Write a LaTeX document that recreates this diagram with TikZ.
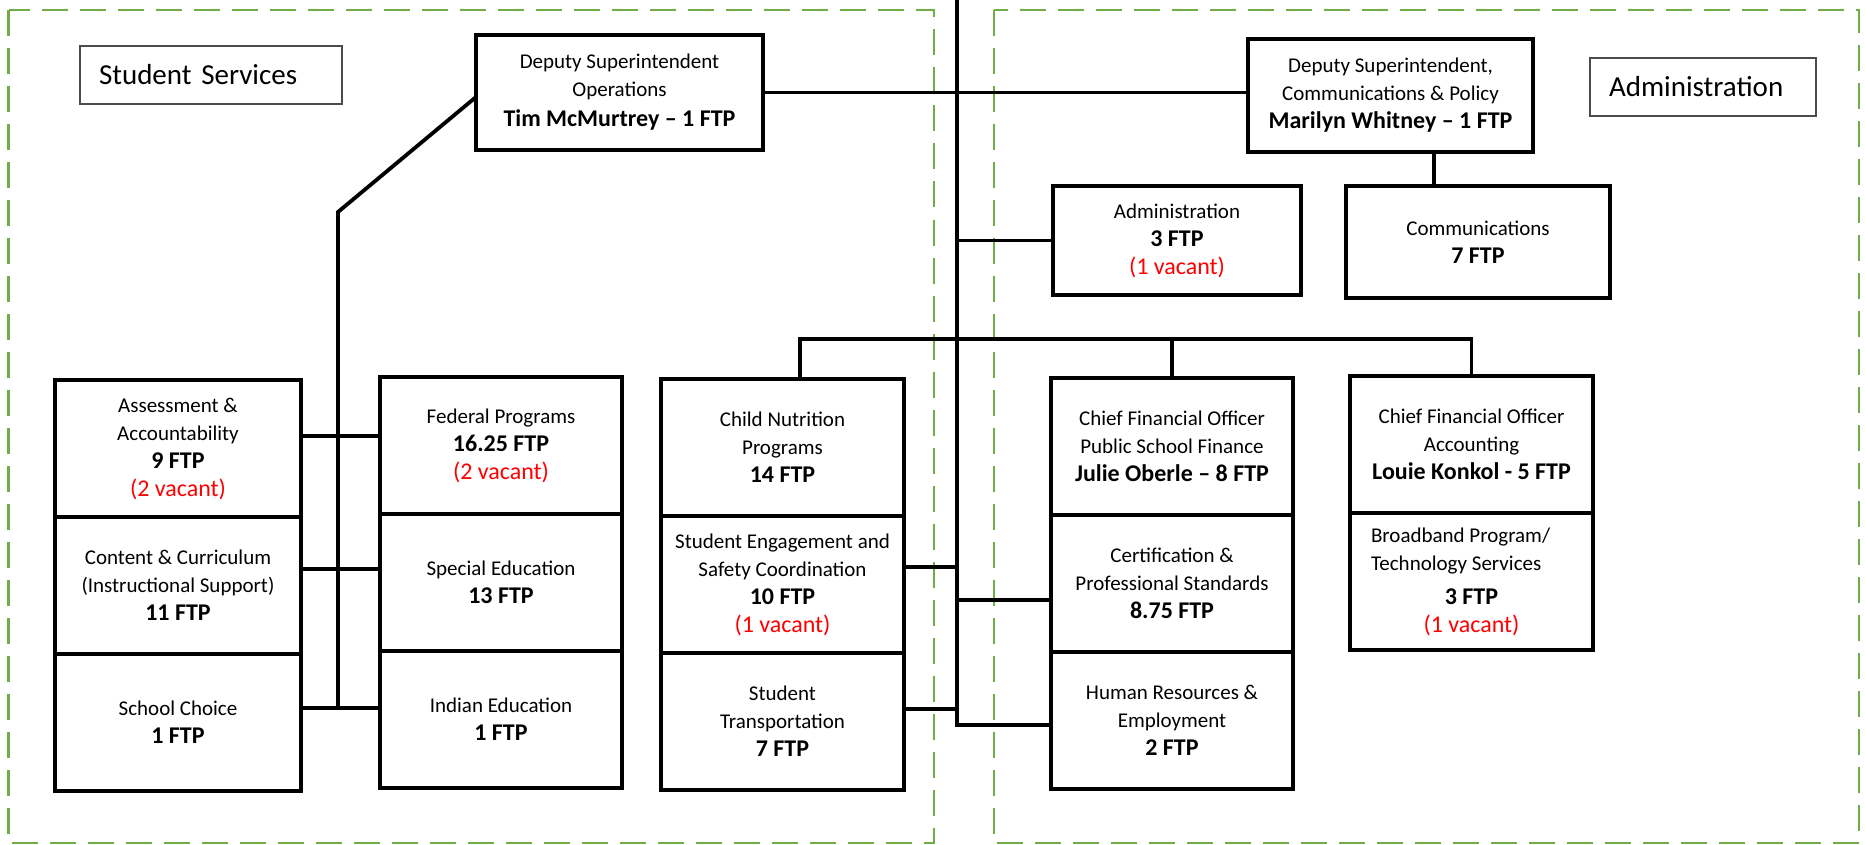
\documentclass[tikz,border=0pt]{standalone}
\usepackage{fontspec}
\setmainfont{Carlito}
\usetikzlibrary{calc}
\usetikzlibrary{positioning}

\definecolor{vacred}{RGB}{255,0,0}
\definecolor{areagreen}{RGB}{112,173,71}
\newcommand{\ftp}[1]{{\fontsize{24}{29}\selectfont\bfseries #1}}
\newcommand{\vac}[1]{{\fontsize{24}{29}\selectfont\color{vacred}#1}}

\begin{document}
\begin{tikzpicture}[x=1pt,y=-1pt,
  unit/.style={draw, line width=4.5pt, outer sep=0pt, inner sep=2pt, align=center,
    minimum height=137pt, font=\fontsize{21}{28}\selectfont},
  tag/.style={draw=black!70, line width=1.5pt, outer sep=0pt, inner xsep=19pt, align=left,
    minimum height=58pt, anchor=north west, font=\fontsize{29}{34}\selectfont},
  area/.style={draw=areagreen, line width=2.5pt, dash pattern=on 26pt off 12pt},
  link/.style={line width=3.8pt}]
\useasboundingbox (0,0) rectangle (1865,845);

% the two areas
\draw[area] (8.5,10) rectangle (934,843);
\draw[area] (994,10) rectangle (1859,843);
\node[tag, text width=224pt] (sslabel) at (80,46) {Student Services};
\node[tag, text width=188pt] (adlabel) at (1590,58) {Administration};

% deputies
\node[unit, minimum width=287pt, minimum height=115pt] (ops) at (619.5,92.5)
  {Deputy Superintendent\\Operations\\[2pt]\ftp{Tim McMurtrey -- 1 FTP}};
\node[unit, minimum width=285pt, minimum height=113pt] (cpol) at (1390.5,95.5)
  {Deputy Superintendent,\\Communications \& Policy\\\ftp{Marilyn Whitney -- 1 FTP}};
\node[unit, minimum width=248pt, minimum height=109pt] (adm) at (1177,240.5)
  {Administration\\\ftp{3 FTP}\\\vac{(1 vacant)}};
\node[unit, minimum width=264pt, minimum height=112pt] (comm) at (1478,242)
  {Communications\\\ftp{7 FTP}};

% student services columns
\node[unit, minimum width=246pt, anchor=north] (assess) at (178,380)
  {Assessment \&\\Accountability\\\ftp{9 FTP}\\\vac{(2 vacant)}};
\node[unit, minimum width=246pt, below=0pt of assess] (content)
  {Content \& Curriculum\\(Instructional Support)\\\ftp{11 FTP}};
\node[unit, minimum width=246pt, below=0pt of content] (choice)
  {School Choice\\\ftp{1 FTP}};

\node[unit, minimum width=242pt, anchor=north] (fed) at (501,377)
  {Federal Programs\\\ftp{16.25 FTP}\\\vac{(2 vacant)}};
\node[unit, minimum width=242pt, below=0pt of fed] (sped)
  {Special Education\\\ftp{13 FTP}};
\node[unit, minimum width=242pt, below=0pt of sped] (indian)
  {Indian Education\\\ftp{1 FTP}};

\node[unit, minimum width=243pt, anchor=north] (nutr) at (782.5,379)
  {Child Nutrition\\Programs\\\ftp{14 FTP}};
\node[unit, minimum width=243pt, below=0pt of nutr] (engage)
  {Student Engagement and\\Safety Coordination\\\ftp{10 FTP}\\\vac{(1 vacant)}};
\node[unit, minimum width=243pt, below=0pt of engage] (transp)
  {Student\\Transportation\\\ftp{7 FTP}};

% administration columns
\node[unit, minimum width=242pt, anchor=north] (cfo1) at (1172,378)
  {Chief Financial Officer\\Public School Finance\\\ftp{Julie Oberle -- 8 FTP}};
\node[unit, minimum width=242pt, below=0pt of cfo1] (cert)
  {Certification \&\\Professional Standards\\\ftp{8.75 FTP}};
\node[unit, minimum width=242pt, below=0pt of cert] (hr)
  {Human Resources \&\\Employment\\\ftp{2 FTP}};

\node[unit, minimum width=243pt, anchor=north] (cfo2) at (1471.5,376)
  {Chief Financial Officer\\Accounting\\\ftp{Louie Konkol - 5 FTP}};
\node[unit, minimum width=243pt, below=0pt of cfo2] (bband)
  {\makebox[201pt][l]{Broadband Program/}\\\makebox[201pt][l]{Technology Services}\\[6pt]\ftp{3 FTP}\\\vac{(1 vacant)}};

% connectors
\coordinate (spinetop) at (957,0);
\coordinate (lbend) at (338,212);
\coordinate (bus) at (0,339);
\coordinate (cdrop) at (1434,0);
\coordinate (ndrop) at (800,0);

\draw[link] (ops.east) -- (ops.east -| cpol.west);
\draw[link] (spinetop) -- (spinetop |- 0,725) -- (hr.west |- 0,725);
\draw[link] (adm.west) -- (adm.west -| spinetop);
\draw[link] (cpol.south -| cdrop) -- (comm.north -| cdrop);
\draw[link] (nutr.north -| ndrop) -- (ndrop |- bus) -- (cfo2.north |- bus) -- (cfo2.north);
\draw[link] (cfo1.north) -- (cfo1.north |- bus);
\draw[link] (engage.east |- 0,567) -- (spinetop |- 0,567);
\draw[link] (transp.east |- 0,709) -- (spinetop |- 0,709);
\draw[link] (spinetop |- 0,600) -- (cert.west |- 0,600);

\draw[link] (ops.west |- 0,97) -- (lbend) -- (lbend |- 0,708);
\draw[link] (assess.east |- 0,436) -- (fed.west |- 0,436);
\draw[link] (content.east |- 0,569) -- (sped.west |- 0,569);
\draw[link] (choice.east |- 0,708) -- (indian.west |- 0,708);
\end{tikzpicture}
\end{document}
